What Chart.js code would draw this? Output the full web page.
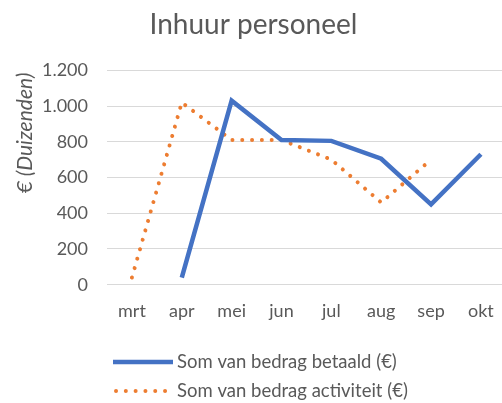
<!DOCTYPE html>
<html>
<head>
<meta charset="utf-8">
<script src="https://cdn.jsdelivr.net/npm/chart.js@4/dist/chart.umd.min.js"></script>
<style>
  html, body { margin: 0; padding: 0; background: #fff; overflow: hidden; }
</style>
</head>
<body>
<canvas id="chart" width="510" height="403"></canvas>
<script>
const months = ['mrt', 'apr', 'mei', 'jun', 'jul', 'aug', 'sep', 'okt'];
const betaald = [null, 40, 1030, 810, 805, 705, 450, 730];
const activiteit = [40, 1020, 810, 810, 700, 460, 700, null];
const yTicks = [0, 200, 400, 600, 800, 1000, 1200];
const seriesNames = ['Som van bedrag betaald (€)', 'Som van bedrag activiteit (€)'];

const FONT = 'Lato';
const GREY = '#595959';

const fmt = v => String(v).replace(/\B(?=(\d{3})+(?!\d))/g, '.');

// y axis title + legend drawn on the canvas
const extras = {
  id: 'extras',
  afterDraw(chart) {
    const ctx = chart.ctx;
    ctx.save();
    ctx.fillStyle = GREY;
    ctx.font = 'italic 21px ' + FONT;
    ctx.textAlign = 'center';
    ctx.textBaseline = 'middle';
    ctx.translate(25, 133);
    ctx.rotate(-Math.PI / 2);
    ctx.fillText('€ (Duizenden)', 0, 0);
    ctx.restore();

    chart.data.datasets.forEach((ds, i) => {
      const y = 362 + i * 29;
      ctx.save();
      ctx.strokeStyle = ds.borderColor;
      ctx.lineWidth = ds.borderWidth;
      ctx.lineCap = ds.borderCapStyle || 'butt';
      ctx.setLineDash(ds.borderDash || []);
      ctx.beginPath();
      ctx.moveTo(i ? 116 : 113, y);
      ctx.lineTo(173, y);
      ctx.stroke();
      ctx.restore();
      ctx.save();
      ctx.fillStyle = GREY;
      ctx.font = '18.5px ' + FONT;
      ctx.textBaseline = 'middle';
      ctx.fillText(ds.label, 177, y);
      ctx.restore();
    });
  }
};

new Chart(document.getElementById('chart').getContext('2d'), {
  type: 'line',
  data: {
    labels: months,
    datasets: [{
      label: seriesNames[0],
      data: betaald,
      borderColor: '#4472C4',
      borderWidth: 4.5,
      pointRadius: 0,
      tension: 0,
      borderJoinStyle: 'miter'
    }, {
      label: seriesNames[1],
      data: activiteit,
      borderColor: '#ED7D31',
      borderWidth: 4,
      borderDash: [0.01, 9.8],
      borderCapStyle: 'round',
      pointRadius: 0,
      tension: 0
    }]
  },
  options: {
    responsive: false,
    animation: false,
    layout: { padding: { left: 0, right: 3, top: 0, bottom: 73.3 } },
    plugins: {
      legend: { display: false },
      tooltip: { enabled: false },
      title: {
        display: true,
        text: 'Inhuur personeel',
        color: GREY,
        font: { family: FONT, size: 28, weight: 'normal' },
        padding: { top: 8, bottom: 28.7 }
      }
    },
    scales: {
      x: {
        offset: true,
        grid: { display: false, drawTicks: false },
        border: { display: false },
        ticks: { color: GREY, font: { family: FONT, size: 18 }, padding: 16 },
        afterFit(s) { s.height = 45; }
      },
      y: {
        min: 0,
        max: 1200,
        afterBuildTicks(s) { s.ticks = yTicks.map(v => ({ value: v })); },
        grid: { color: '#d9d9d9', lineWidth: 1, drawTicks: false },
        border: { display: false },
        ticks: { color: GREY, font: { family: FONT, size: 18 }, padding: 19, callback: v => fmt(v) },
        afterFit(s) { s.width = 107; }
      }
    }
  },
  plugins: [extras]
});
</script>
</body>
</html>
